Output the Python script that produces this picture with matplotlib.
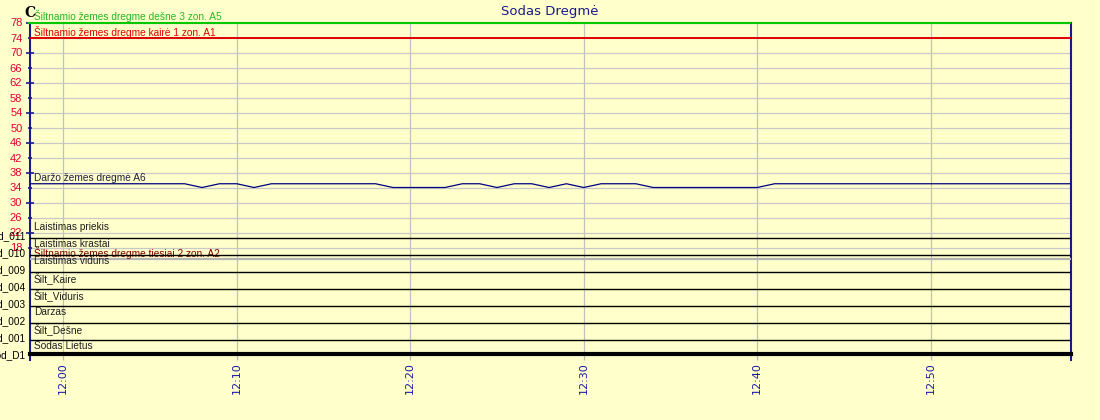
import numpy as np
import matplotlib
matplotlib.use('Agg')
from matplotlib import pyplot as plt
import matplotlib.dates as mdates

# data
times = np.arange(np.datetime64('2024-05-01T11:58'), np.datetime64('2024-05-01T12:59'),
                  np.timedelta64(1, 'm'))
x_start = np.datetime64('2024-05-01T11:58:05')
x_end = np.datetime64('2024-05-01T12:58:05')

# analog channels (% moisture), one value per minute
a6_darzo = [35, 35, 35, 35, 35, 35, 35, 35, 35, 35,
            34, 35, 35, 34, 35, 35, 35, 35, 35, 35,
            35, 34, 34, 34, 34, 35, 35, 34, 35, 35,
            34, 35, 34, 35, 35, 35, 34, 34, 34, 34,
            34, 34, 34, 35, 35, 35, 35, 35, 35, 35,
            35, 35, 35, 35, 35, 35, 35, 35, 35, 35, 35]
a5_desne = [78] * len(times)
a1_kaire = [74] * len(times)
a2_tiesiai = [15] * len(times)

analog_names = ['Šiltnamio žemes dregme dešne 3 zon. A5',
                'Šiltnamio žemes dregme kairė 1 zon. A1',
                'Daržo žemes dregmė A6',
                'Šiltnamio žemes dregme tiesiai 2 zon. A2']

# digital channels, bottom to top
digital_names = ['Sodas Lietus', 'Šilt_Dešne', 'Darzas', 'Šilt_Viduris', 'Šilt_Kaire',
                 'Laistimas viduris', 'Laistimas krastai', 'Laistimas priekis']
digital_ids = ['Sod_D1', 'Sod_001', 'Sod_002', 'Sod_003', 'Sod_004',
               'Sod_009', 'Sod_010', 'Sod_011']
digital_states = [[0] * len(times) for _ in digital_names]

y_ticks = [18, 22, 26, 30, 34, 38, 42, 46, 50, 54, 58, 62, 66, 70, 74, 78]

# styling
BG = '#ffffcc'
NAVY = '#1a1a8c'
plt.rcParams['font.family'] = ['DejaVu Sans']
LABEL_FONT = ['Liberation Sans', 'DejaVu Sans']

fig = plt.figure(figsize=(11, 4.2), dpi=100, facecolor=BG)
ax = fig.add_axes([30 / 1100, 1 - 354 / 420, 1041 / 1100, 331.5 / 420])
ax.set_facecolor(BG)

y_bottom = 78 - 331.5 / 3.75
ax.set_ylim(y_bottom, 78)
ax.set_xlim(x_start, x_end)

# analog traces
ax.plot(times, a5_desne, color='#00c800', lw=1.5, clip_on=False, zorder=4)
ax.plot(times, a1_kaire, color='#e00000', lw=1.4, zorder=4)
ax.plot(times, a6_darzo, color='#000080', lw=0.9, zorder=4)
ax.plot(times, a2_tiesiai, color='#b4b4b4', lw=1.6, zorder=3)

analog_levels = [a5_desne[0], a1_kaire[0], a6_darzo[0], a2_tiesiai[0]]
analog_colors = ['#22b822', '#e00000', '#202040', '#800000']
for name, level, col in zip(analog_names, analog_levels, analog_colors):
    ax.annotate(name, xy=(0, level), xycoords=('axes fraction', 'data'),
                xytext=(4, 6), textcoords='offset pixels', ha='left', va='center',
                color=col, fontsize=7.3, family=LABEL_FONT, zorder=6)

# axes look
ax.set_yticks(y_ticks)
ax.tick_params(axis='y', colors=NAVY, labelcolor='#dd0033', labelsize=8,
               direction='inout', length=3, width=1.2, pad=4)
for lbl in ax.get_yticklabels():
    lbl.set_family(LABEL_FONT)
for tick, loc in zip(ax.yaxis.get_major_ticks(), y_ticks):
    if (78 - loc) % 8 == 0:
        tick.tick1line.set_markersize(6)
ax.grid(axis='y', color='#c8c8c8', lw=0.9)
ax.grid(axis='x', color='#c0c0c0', lw=0.9)

ax.xaxis.set_major_locator(mdates.MinuteLocator(byminute=range(0, 60, 10)))
ax.xaxis.set_major_formatter(mdates.DateFormatter('%H:%M'))
ax.tick_params(axis='x', colors='#b8b8b8', labelcolor='#1a1aa6', labelsize=8,
               labelrotation=90, length=4.3, width=0.9, pad=1.5)

ax.spines['top'].set_visible(False)
ax.spines['left'].set_color(NAVY)
ax.spines['left'].set_linewidth(1.5)
ax.spines['left'].set_bounds(y_bottom - 6 / 3.75, 78)
ax.spines['right'].set_color(NAVY)
ax.spines['right'].set_linewidth(1.5)
ax.spines['right'].set_bounds(y_bottom - 6 / 3.75, 78)
ax.spines['bottom'].set_color('black')
ax.spines['bottom'].set_linewidth(3)
ax.spines['bottom'].set_zorder(5)

# digital channels on their own band scale
ax2 = ax.twinx()
ax2.set_ylim(4 / 17, 335.5 / 17)
for i, (name, states) in enumerate(zip(digital_names, digital_states)):
    ax2.plot(times, np.array(states) + i, color='black', lw=1.0)
    ax2.text(4 / 1041, i + 11 / 17, name, transform=ax2.get_yaxis_transform(),
             ha='left', va='center', fontsize=7.3, family=LABEL_FONT, color='#202020')
ax2.yaxis.set_ticks_position('left')
ax2.set_yticks([i + 3 / 17 for i in range(len(digital_ids))])
ax2.set_yticklabels(digital_ids, family=LABEL_FONT)
ax2.tick_params(axis='y', length=0, pad=3, labelsize=7.2, labelcolor='black')
for sp in ax2.spines.values():
    sp.set_visible(False)

fig.text(550 / 1100, 1 - 12 / 420, 'Sodas Dregmė', ha='center', va='center',
         color=NAVY, fontsize=9.5)
fig.text(24 / 1100, 1 - 13 / 420, 'C', ha='left', va='center', color='black',
         fontsize=10, family='DejaVu Serif', fontweight='bold')

fig.savefig('out.png', dpi=100, facecolor=BG)
